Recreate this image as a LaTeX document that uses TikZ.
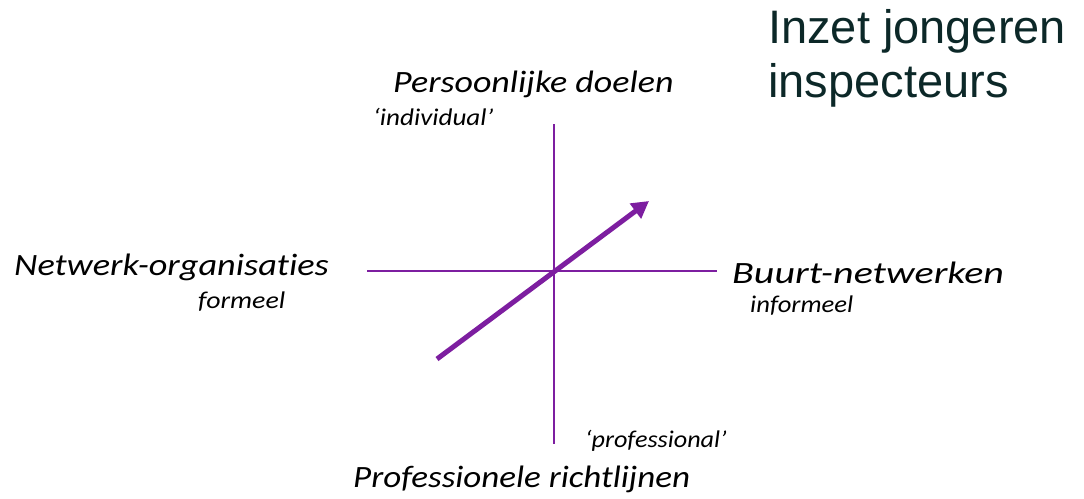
\documentclass[tikz,border=0pt]{standalone}
\usepackage{fontspec}
\setmainfont{Carlito}[Ligatures=CommonOff]
\newfontfamily\titlefont{Liberation Sans}
\usetikzlibrary{arrows.meta}
\definecolor{axispurple}{RGB}{125,30,160}
\definecolor{titlecol}{RGB}{12,40,40}
\newcommand{\wlbl}[2]{\scalebox{#1}[1]{#2}}
\tikzset{
  axisline/.style={draw=axispurple, line width=2pt},
  bigarrow/.style={draw=axispurple, line width=5pt, -{Triangle[length=17pt,width=18pt]}},
  biglabel/.style={anchor=base west, inner sep=0pt, font=\fontsize{31}{36}\selectfont\itshape},
  smalllabel/.style={anchor=base west, inner sep=0pt, font=\fontsize{24}{28}\selectfont\itshape},
  titletext/.style={anchor=base west, inner sep=0pt, text=titlecol, font=\titlefont\fontsize{47}{54}\selectfont}
}
\begin{document}
\begin{tikzpicture}[x=1pt,y=-1pt]
\useasboundingbox (0,0) rectangle (1084,498);
% axes
\coordinate (vtop) at (554,124);
\coordinate (vbot) at (554,444);
\coordinate (hleft) at (367,271);
\coordinate (hright) at (717,271);
\coordinate (astart) at (437,359);
\coordinate (aend) at (649,201);
\draw[axisline] (vtop) -- (vbot);
\draw[axisline] (hleft) -- (hright);
\draw[bigarrow] (astart) -- (aend);
% labels
\node[biglabel] (top) at (393,92) {\wlbl{1.16}{Persoonlijke doelen}};
\node[smalllabel] (ind) at (373,125) {\wlbl{1.13}{‘individual’}};
\node[biglabel] (left) at (14,275) {\wlbl{1.17}{Netwerk-organisaties}};
\node[smalllabel] (form) at (198,308) {\wlbl{1.16}{formeel}};
\node[biglabel] (right) at (732,283) {\wlbl{1.29}{Buurt-netwerken}};
\node[smalllabel] (inf) at (750,312) {\wlbl{1.11}{informeel}};
\node[smalllabel] (prof) at (585,447) {\wlbl{1.09}{‘professional’}};
\node[biglabel] (bot) at (353,487) {\wlbl{1.13}{Professionele richtlijnen}};
% title
\node[titletext] (t1) at (768,43) {Inzet jongeren};
\node[titletext] (t2) at (768,97) {inspecteurs};
\end{tikzpicture}
\end{document}
